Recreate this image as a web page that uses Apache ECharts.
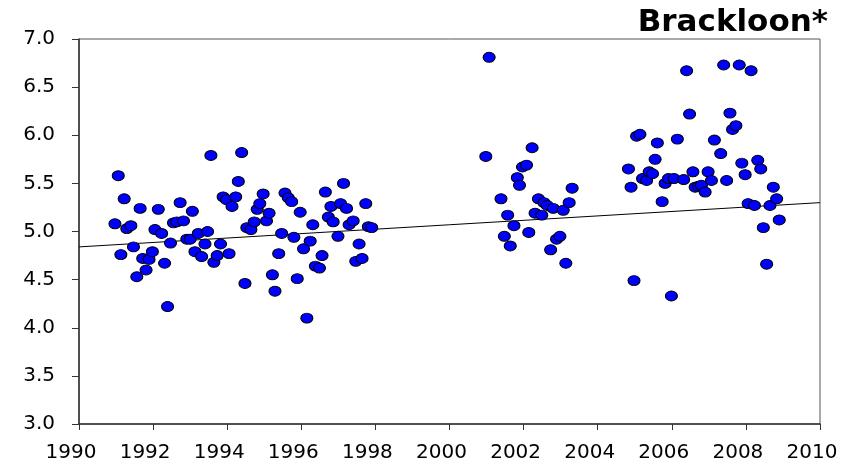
<!DOCTYPE html>
<html>
<head>
<meta charset="utf-8">
<script src="https://cdn.jsdelivr.net/npm/echarts@6/dist/echarts.min.js"></script>
<style>
  html, body { margin: 0; padding: 0; background: #fff; }
  #chart { width: 852px; height: 464px; }
</style>
</head>
<body>
<div id="chart"></div>
<script>
const years = [
  1990.97, 1991.06, 1991.13, 1991.22, 1991.29, 1991.40, 1991.47, 1991.56, 1991.65, 1991.72,
  1991.81, 1991.89, 1991.98, 1992.05, 1992.14, 1992.23, 1992.31, 1992.39, 1992.47, 1992.55,
  1992.64, 1992.73, 1992.82, 1992.91, 1993.00, 1993.06, 1993.13, 1993.22, 1993.31, 1993.40,
  1993.47, 1993.56, 1993.64, 1993.73, 1993.82, 1993.89, 1993.98, 1994.05, 1994.13, 1994.23,
  1994.30, 1994.39, 1994.48, 1994.53, 1994.64, 1994.73, 1994.81, 1994.88, 1994.97, 1995.06,
  1995.13, 1995.22, 1995.29, 1995.39, 1995.47, 1995.56, 1995.65, 1995.74, 1995.80, 1995.89,
  1995.97, 1996.06, 1996.15, 1996.24, 1996.31, 1996.38, 1996.49, 1996.56, 1996.65, 1996.73,
  1996.80, 1996.86, 1996.99, 1997.06, 1997.14, 1997.22, 1997.29, 1997.40, 1997.47, 1997.56,
  1997.64, 1997.74, 1997.81, 1997.90,
  2000.98, 2001.07, 2001.39, 2001.48, 2001.57, 2001.64, 2001.74, 2001.83, 2001.89, 2001.97,
  2002.08, 2002.14, 2002.23, 2002.31, 2002.40, 2002.49, 2002.55, 2002.64, 2002.73, 2002.80,
  2002.89, 2002.98, 2003.07, 2003.14, 2003.23, 2003.31,
  2004.83, 2004.90, 2004.98, 2005.05, 2005.14, 2005.21, 2005.32, 2005.39, 2005.48, 2005.55,
  2005.61, 2005.74, 2005.82, 2005.91, 2005.99, 2006.06, 2006.15, 2006.32, 2006.40, 2006.48,
  2006.57, 2006.63, 2006.72, 2006.80, 2006.90, 2006.98, 2007.07, 2007.15, 2007.32, 2007.40,
  2007.48, 2007.57, 2007.64, 2007.73, 2007.82, 2007.89, 2007.98, 2008.06, 2008.14, 2008.23,
  2008.32, 2008.40, 2008.47, 2008.56, 2008.65, 2008.74, 2008.83, 2008.90
];
const values = [
  5.08, 5.58, 4.76, 5.34, 5.03, 5.06, 4.84, 4.53, 5.24, 4.72,
  4.60, 4.71, 4.79, 5.02, 5.23, 4.98, 4.67, 4.22, 4.88, 5.09,
  5.10, 5.30, 5.11, 4.92, 4.92, 5.21, 4.79, 4.98, 4.74, 4.87,
  5.00, 5.79, 4.68, 4.75, 4.87, 5.36, 5.33, 4.77, 5.26, 5.36,
  5.52, 5.82, 4.46, 5.04, 5.02, 5.10, 5.23, 5.29, 5.39, 5.11,
  5.19, 4.55, 4.38, 4.77, 4.98, 5.40, 5.35, 5.31, 4.94, 4.51,
  5.20, 4.82, 4.10, 4.90, 5.07, 4.64, 4.62, 4.75, 5.41, 5.15,
  5.26, 5.10, 4.95, 5.29, 5.50, 5.24, 5.07, 5.11, 4.69, 4.87,
  4.72, 5.29, 5.05, 5.04,
  5.78, 6.81, 5.34, 4.95, 5.17, 4.85, 5.06, 5.56, 5.48, 5.67,
  5.69, 4.99, 5.87, 5.19, 5.34, 5.17, 5.30, 5.27, 4.81, 5.24,
  4.92, 4.95, 5.22, 4.67, 5.30, 5.45,
  5.65, 5.46, 4.49, 5.99, 6.01, 5.55, 5.53, 5.62, 5.60, 5.75,
  5.92, 5.31, 5.50, 5.55, 4.33, 5.55, 5.96, 5.54, 6.67, 6.22,
  5.62, 5.46, 5.47, 5.48, 5.41, 5.62, 5.53, 5.95, 5.81, 6.73,
  5.53, 6.23, 6.06, 6.10, 6.73, 5.71, 5.59, 5.29, 6.67, 5.27,
  5.74, 5.65, 5.04, 4.66, 5.27, 5.46, 5.34, 5.12
];
// fitted trend line end points
const trendX = [1990, 2010];
const trendY = [4.84, 5.30];

const yTicks = [3.0, 3.5, 4.0, 4.5, 5.0, 5.5, 6.0, 6.5, 7.0];

const chart = echarts.init(document.getElementById('chart'), null, { renderer: 'canvas' });
chart.setOption({
  animation: false,
  backgroundColor: '#fff',
  title: {
    text: 'Brackloon*',
    right: 24,
    top: 7,
    padding: 0,
    textStyle: { fontFamily: 'DejaVu Sans', fontWeight: 'bold', fontSize: 31, color: '#000' }
  },
  grid: {
    left: 79, right: 32, top: 39, bottom: 40,
    show: true, borderColor: '#555', borderWidth: 1
  },
  xAxis: {
    type: 'value',
    min: 1990, max: 2010, interval: 2,
    axisLine: { show: true, onZero: false, lineStyle: { color: '#333', width: 1.5 } },
    axisTick: { show: true, length: 6, inside: false, lineStyle: { color: '#333' } },
    splitLine: { show: false },
    axisLabel: {
      margin: 19,
      padding: [0, 16, 0, 0],
      fontFamily: 'DejaVu Sans', fontSize: 20, color: '#000',
      showMinLabel: true, showMaxLabel: true,
      formatter: v => String(v)
    }
  },
  yAxis: {
    type: 'value',
    min: yTicks[0], max: yTicks[yTicks.length - 1], interval: 0.5,
    axisLine: { show: true, onZero: false, lineStyle: { color: '#333', width: 1.5 } },
    axisTick: { show: true, length: 7, inside: false, lineStyle: { color: '#333' } },
    splitLine: { show: false },
    axisLabel: {
      margin: 24,
      fontFamily: 'DejaVu Sans', fontSize: 20, color: '#000',
      formatter: v => v.toFixed(1)
    }
  },
  series: [
    {
      type: 'line',
      data: trendX.map((x, i) => [x, trendY[i]]),
      symbol: 'none',
      lineStyle: { color: '#000', width: 1 },
      z: 1
    },
    {
      type: 'scatter',
      data: years.map((x, i) => [x, values[i]]),
      symbol: 'circle',
      symbolSize: [12, 10],
      itemStyle: { color: '#0000ff', borderColor: '#000', borderWidth: 1, opacity: 1 },
      z: 2
    }
  ]
});
</script>
</body>
</html>
